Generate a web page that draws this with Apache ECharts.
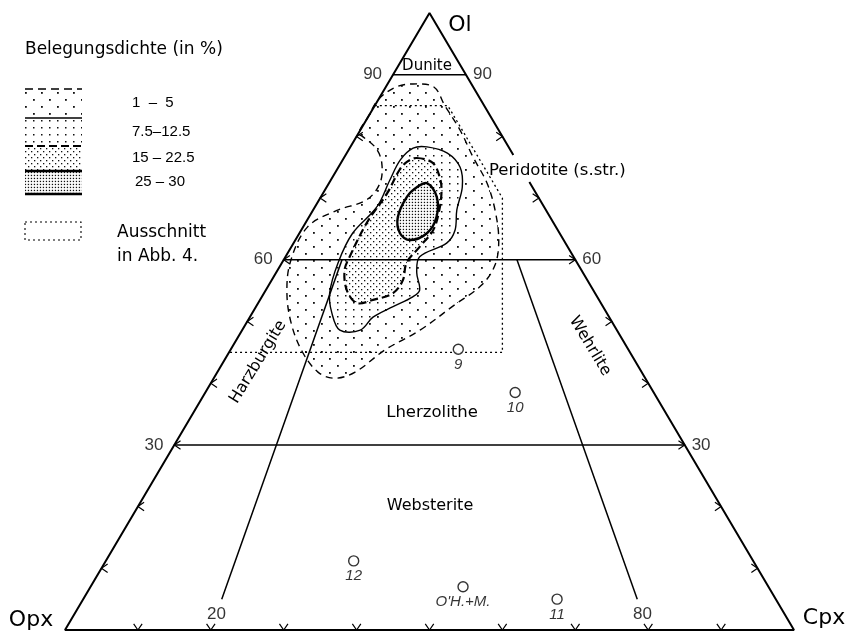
<!DOCTYPE html>
<html>
<head>
<meta charset="utf-8">
<script src="https://cdn.jsdelivr.net/npm/echarts@6/dist/echarts.min.js"></script>
<style>
  html, body { margin: 0; background: #fff; }
  #main { width: 847px; height: 634px; }
</style>
</head>
<body>
<div id="main"></div>
<script>
// Proben: [Ol, Cpx] in %, Opx = 100 - Ol - Cpx
var pointNames = ['9', '10', '12', "O'H.+M.", '11'];
var pointOl = [45.5, 38.5, 11.2, 7.0, 5.0];
var pointCpx = [31.2, 42.5, 34.0, 51.1, 65.0];

var olLevels = [30, 60, 90];          // Ol-Grenzlinien, beschriftet
var ratioLines = [20, 80];            // Cpx/(Opx+Cpx) in %
var edgeTicks = [10, 20, 30, 40, 50, 60, 70, 80, 90];
var classLabels = ['1  \u2013  5', '7.5\u201312.5', '15 \u2013 22.5', '25 \u2013 30'];

// Belegungsdichte-Konturen, Eckpunkte [Ol, Cpx]
var contour1 = [[86, 0], [88, 1.4], [88.5, 3.5], [88, 6.6], [85, 9.6], [81, 13.7], [76.7, 17.6],
  [72.4, 21.7], [68, 25], [63.2, 27.9], [59.2, 29.4], [55.9, 29.2], [52.7, 27.1], [48.6, 24.4],
  [45.4, 21.2], [41.8, 18.9], [40.8, 16.6], [41.8, 13.8], [45.1, 10], [49.4, 6.4], [54.3, 3.3],
  [59.6, 1.1], [65.3, 0.6], [68, 3.3], [69.7, 6.5], [72.4, 7], [75.7, 5.6], [78.1, 3.6],
  [80, 0.8], [80.5, 0], [83.2, 0]];
var contour2 = [[78.3, 10.5], [77.3, 13.8], [75, 16.7], [71.8, 18.6], [68.1, 19.7], [64.8, 21.1],
  [62.7, 21], [60.5, 18.4], [57.9, 19.3], [55.1, 21.1], [54, 20.7], [52.4, 18.8], [50.7, 16.9],
  [48.6, 16.2], [48.6, 13.4], [51.4, 10.9], [54.6, 9], [59.5, 7.7], [64.3, 7.3], [68.6, 8.5],
  [72.9, 8.1], [76.2, 7.9], [78.1, 8.7]];
var contour3 = [[76.5, 10], [75.7, 12.6], [73.4, 14.7], [71.3, 16], [68.1, 17.3], [64.8, 18.1],
  [62.1, 17.6], [59.5, 17.1], [56.7, 18], [54.6, 17.7], [53.5, 15.5], [53, 13.5], [55.1, 11.1],
  [58.3, 9.2], [60.5, 8.8], [66, 8.4], [70.8, 8.8], [74.6, 8.6], [75.9, 9]];
var contour4 = [[72.4, 13.5], [70.2, 15.9], [66.9, 17.5], [64.3, 17.5], [63.2, 15.7], [64.3, 13.8],
  [66.9, 12.2], [70.2, 11.8], [71.8, 12.4]];

// Ausschnitt in Abb. 4, [Ol, Cpx]
var cutout = [[85, 0], [85, 10], [70, 25], [45, 37.5], [45, 0]];

// ternaer -> x/y des Diagramms (x: Cpx + Ol/2, y: Ol)
function tern(ol, cpx) {
  return [cpx + ol / 2, ol];
}

function dots(w, h, list, r) {
  var c = document.createElement('canvas');
  c.width = w; c.height = h;
  var g = c.getContext('2d');
  g.fillStyle = '#fff';
  g.fillRect(0, 0, w, h);
  g.fillStyle = '#111';
  list.forEach(function (d) { g.fillRect(d[0], d[1], r, r); });
  return { image: c, repeat: 'repeat' };
}
var pat1 = dots(16, 14, [[1, 1], [9, 8]], 1.8);
var pat2 = dots(8, 7, [[1, 1]], 1.5);
var pat3 = dots(6, 6, [[1, 1], [4, 4]], 1.3);
var pat4 = dots(3, 3, [[0.8, 0.8]], 1.3);

var contours = [
  { pts: contour1, fill: pat1, dash: [7, 5], width: 1.4 },
  { pts: contour2, fill: pat2, dash: null, width: 1.4 },
  { pts: contour3, fill: pat3, dash: [8, 4], width: 2.2 },
  { pts: contour4, fill: pat4, dash: null, width: 2.4 }
];

var myChart = echarts.init(document.getElementById('main'));

function seg(points, width, dash) {
  return {
    type: 'line',
    data: points.map(function (p) { return tern(p[0], p[1]); }),
    symbol: 'none',
    silent: true,
    z: 3,
    lineStyle: { color: '#000', width: width, type: dash || 'solid' }
  };
}

var series = [];

// Konturflaechen
series.push({
  type: 'custom',
  coordinateSystem: 'cartesian2d',
  data: [0, 1, 2, 3],
  z: 1,
  silent: true,
  renderItem: function (params, api) {
    var c = contours[params.dataIndex];
    return {
      type: 'polygon',
      shape: {
        points: c.pts.map(function (p) { return api.coord(tern(p[0], p[1])); }),
        smooth: 0.35
      },
      style: { fill: c.fill, stroke: '#000', lineWidth: c.width, lineDash: c.dash }
    };
  }
});

// Dreieck (rechte Seite unterbrochen fuer die Beschriftung)
series.push(seg([[77, 23], [100, 0], [0, 0], [0, 100], [72.6, 27.4]], 2));

olLevels.forEach(function (v) {
  series.push(seg([[v, 0], [v, 100 - v]], 1.5));
});
ratioLines.forEach(function (r) {
  series.push(seg([[5, 95 * r / 100], [60, 40 * r / 100]], 1.5));
});
series.push(seg(cutout, 1.3, [2, 3]));

// Randmarken
series.push({
  type: 'custom',
  coordinateSystem: 'cartesian2d',
  data: edgeTicks,
  z: 4,
  silent: true,
  renderItem: function (params, api) {
    var v = edgeTicks[params.dataIndex];
    var L = 7.5, ca = Math.cos(0.6) * L, sa = Math.sin(0.6) * L;
    var kids = [];
    function chev(p, a, b) {
      kids.push({
        type: 'polyline',
        shape: { points: [[p[0] + a[0], p[1] + a[1]], p, [p[0] + b[0], p[1] + b[1]]] },
        style: { stroke: '#000', lineWidth: 1.2, fill: 'none' }
      });
    }
    chev(api.coord(tern(0, v)), [-sa, -ca], [sa, -ca]);
    if (v < 90) {
      chev(api.coord(tern(v, 0)), [ca, -sa], [ca, sa]);
      chev(api.coord(tern(v, 100 - v)), [-ca, -sa], [-ca, sa]);
    }
    return { type: 'group', children: kids };
  }
});

// Beschriftung der Ol-Linien und der Verhaeltnislinien
var numFont = { fontSize: 17, fontFamily: 'Liberation Sans', color: '#000' };
var levelData = [];
olLevels.forEach(function (v) {
  levelData.push({ value: tern(v, 0), name: String(v),
    label: { position: 'left', distance: 11 } });
  levelData.push({ value: tern(v, 100 - v), name: String(v),
    label: { position: 'right', distance: 7 } });
});
ratioLines.forEach(function (r) {
  levelData.push({ value: tern(2.6, 97.4 * r / 100), name: String(r),
    label: { position: 'inside' } });
});
series.push({
  type: 'scatter',
  data: levelData,
  symbolSize: 0,
  silent: true,
  z: 5,
  label: Object.assign({ show: true, formatter: '{b}' }, numFont)
});

// Proben
series.push({
  type: 'scatter',
  data: pointOl.map(function (ol, i) {
    return { name: pointNames[i], value: tern(ol, pointCpx[i]) };
  }),
  symbol: 'circle',
  symbolSize: 10,
  z: 6,
  itemStyle: { color: '#fff', borderColor: '#000', borderWidth: 1.4 },
  label: {
    show: true, position: 'bottom', distance: 2, formatter: '{b}',
    fontStyle: 'italic', fontSize: 15, fontFamily: 'Liberation Sans', color: '#000'
  }
});

function txt(x, y, text, font, extra) {
  var el = {
    type: 'text', x: x, y: y, z: 20, silent: true,
    style: { text: text, font: font, fill: '#000', align: 'center', verticalAlign: 'middle' }
  };
  if (extra) {
    if (extra.rotation !== undefined) el.rotation = extra.rotation;
    if (extra.align) el.style.align = extra.align;
  }
  return el;
}

var wordFont = '16.5px "DejaVu Sans"';
var graphic = [
  txt(25, 50, 'Belegungsdichte (in %)', '17px "DejaVu Sans"', { align: 'left' }),
  // Legendenfelder
  { type: 'rect', z: 20, shape: { x: 25, y: 89, width: 57, height: 29 }, style: { fill: pat1 } },
  { type: 'rect', z: 20, shape: { x: 25, y: 118, width: 57, height: 28 }, style: { fill: pat2 } },
  { type: 'rect', z: 20, shape: { x: 25, y: 146, width: 57, height: 25 }, style: { fill: pat3 } },
  { type: 'rect', z: 20, shape: { x: 25, y: 171, width: 57, height: 23 }, style: { fill: pat4 } },
  { type: 'line', z: 21, shape: { x1: 25, y1: 89, x2: 82, y2: 89 }, style: { stroke: '#000', lineWidth: 1.4, lineDash: [8, 5] } },
  { type: 'line', z: 21, shape: { x1: 25, y1: 118, x2: 82, y2: 118 }, style: { stroke: '#000', lineWidth: 1.4 } },
  { type: 'line', z: 21, shape: { x1: 25, y1: 146, x2: 82, y2: 146 }, style: { stroke: '#000', lineWidth: 2.2, lineDash: [8, 4] } },
  { type: 'line', z: 21, shape: { x1: 25, y1: 171, x2: 82, y2: 171 }, style: { stroke: '#000', lineWidth: 2.4 } },
  { type: 'line', z: 21, shape: { x1: 25, y1: 194, x2: 82, y2: 194 }, style: { stroke: '#000', lineWidth: 2.4 } },
  txt(132, 103, classLabels[0], '15px "Liberation Sans"', { align: 'left' }),
  txt(132, 132, classLabels[1], '15px "Liberation Sans"', { align: 'left' }),
  txt(132, 158, classLabels[2], '15px "Liberation Sans"', { align: 'left' }),
  txt(135, 182, classLabels[3], '15px "Liberation Sans"', { align: 'left' }),
  { type: 'rect', z: 20, shape: { x: 25, y: 222, width: 56, height: 18 }, style: { fill: 'none', stroke: '#000', lineWidth: 1.1, lineDash: [2, 3] } },
  txt(117, 233, 'Ausschnitt', '17px "DejaVu Sans"', { align: 'left' }),
  txt(117, 257, 'in Abb. 4.', '17px "DejaVu Sans"', { align: 'left' }),
  // Ecken
  txt(460, 25, 'Ol', '22px "DejaVu Sans"'),
  txt(31, 620, 'Opx', '22px "DejaVu Sans"'),
  txt(824, 618, 'Cpx', '22px "DejaVu Sans"'),
  // Felder
  txt(427, 66, 'Dunite', '15px "DejaVu Sans"'),
  txt(489, 171, 'Peridotite (s.str.)', wordFont, { align: 'left' }),
  txt(432, 413, 'Lherzolithe', wordFont),
  txt(430, 506, 'Websterite', '16px "DejaVu Sans"'),
  txt(258, 362, 'Harzburgite', '16px "DejaVu Sans"', { rotation: 1.02 }),
  txt(590, 346, 'Wehrlite', '16px "DejaVu Sans"', { rotation: -1.03 })
];

var option = {
  animation: false,
  backgroundColor: '#fff',
  grid: { left: 65, top: 13, width: 729, height: 617 },
  xAxis: { type: 'value', min: 0, max: 100, show: false },
  yAxis: { type: 'value', min: 0, max: 100, show: false },
  series: series,
  graphic: graphic
};

myChart.setOption(option);
</script>
</body>
</html>
